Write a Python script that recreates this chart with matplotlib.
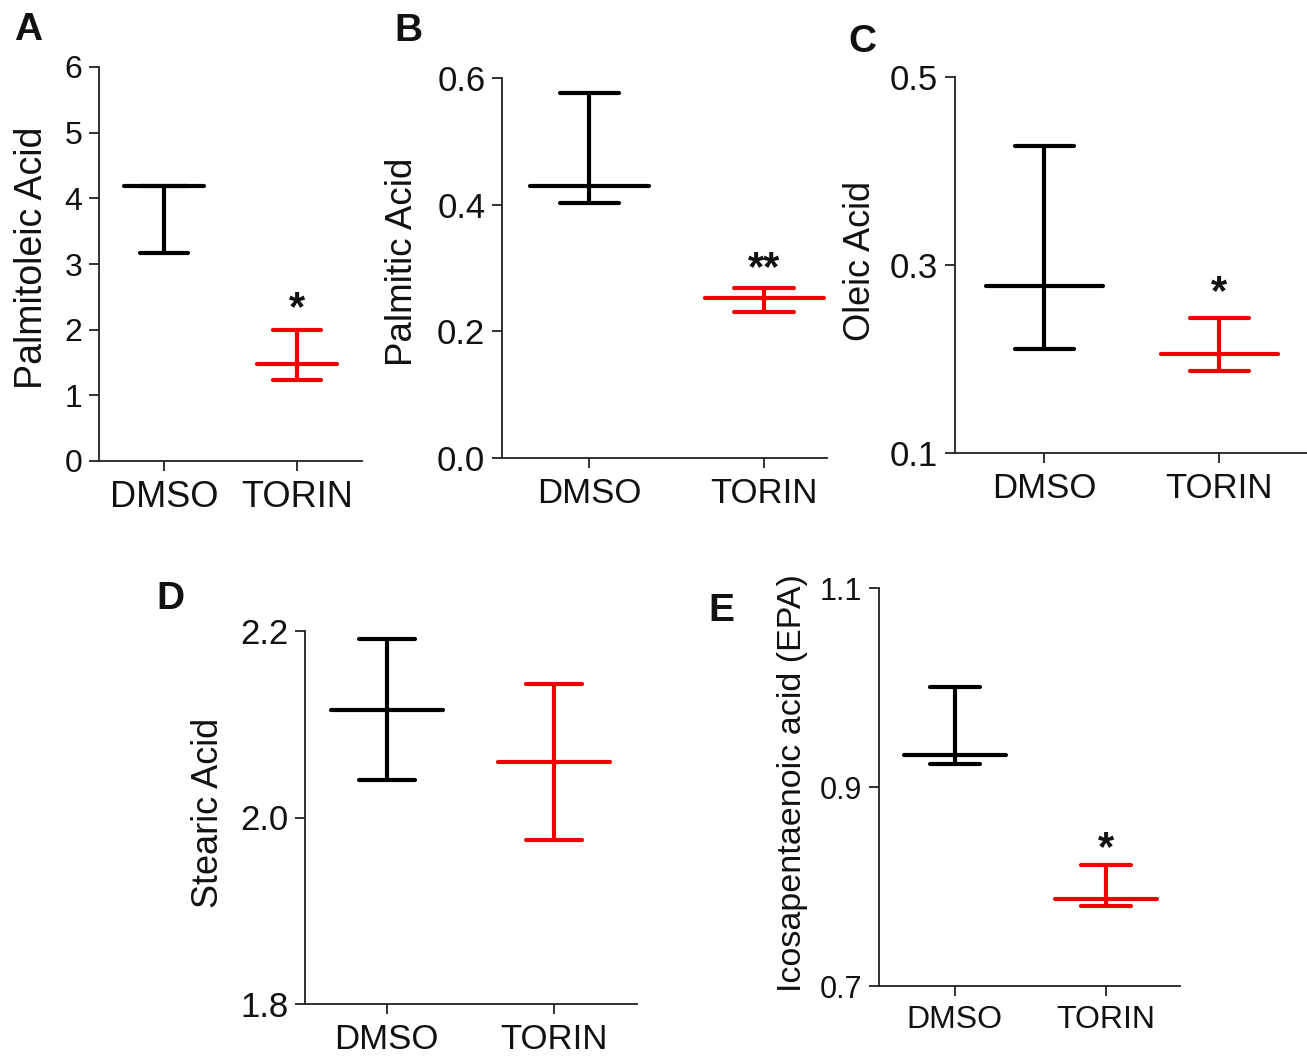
import matplotlib
matplotlib.use("Agg")
import matplotlib.pyplot as plt

plt.rcParams['font.family'] = ['Liberation Sans', 'DejaVu Sans']

# ---------------- data ----------------
categories = ['DMSO', 'TORIN']
panel_letters = ['A', 'B', 'C', 'D', 'E']
analytes = ['Palmitoleic Acid', 'Palmitic Acid', 'Oleic Acid',
            'Stearic Acid', 'Icosapentaenoic acid (EPA)']

mean_dmso = [4.19, 0.430, 0.278, 2.115, 0.932]
upper_dmso = [4.19, 0.576, 0.427, 2.191, 1.001]
lower_dmso = [3.17, 0.402, 0.211, 2.040, 0.923]

mean_torin = [1.48, 0.253, 0.205, 2.059, 0.787]
upper_torin = [2.00, 0.268, 0.244, 2.143, 0.822]
lower_torin = [1.24, 0.231, 0.187, 1.976, 0.780]

significance = ['*', '**', '*', '', '*']

y_ticks = [[0, 1, 2, 3, 4, 5, 6],
           [0.0, 0.2, 0.4, 0.6],
           [0.1, 0.3, 0.5],
           [1.8, 2.0, 2.2],
           [0.7, 0.9, 1.1]]
y_tick_labels = [['0', '1', '2', '3', '4', '5', '6'],
                 ['0.0', '0.2', '0.4', '0.6'],
                 ['0.1', '0.3', '0.5'],
                 ['1.8', '2.0', '2.2'],
                 ['0.7', '0.9', '1.1']]

# ---------------- layout / style ----------------
W, H = 1307, 1057
fig = plt.figure(figsize=(W / 100, H / 100), dpi=100)

# axes boxes in pixels: left, right, top, bottom
boxes = [(99, 362, 67, 461),
         (502, 827, 78, 458),
         (955, 1307, 77, 453),
         (305, 637, 631, 1004),
         (879, 1180, 588, 986)]
xlims = [(-0.49, 1.49), (-0.5, 1.36), (-0.51, 1.5), (-0.49, 1.5), (-0.5, 1.49)]
mean_half = [0.30, 0.34, 0.335, 0.336, 0.338]
cap_half = [0.18, 0.17, 0.17, 0.168, 0.166]
ylabel_centers = [(32, 258), (403, 262), (860, 261), (208, 813), (792, 783)]
letter_pos = [(28, 30), (408, 31), (862, 42), (170, 599), (721, 611)]
tick_fs = [23, 25, 25, 25, 22]
xtick_fs = [26, 25, 25, 25, 23]
ylabel_fs = [27, 26.5, 26, 26, 24.5]
star_offsets = [7, 6, 10, 0, 3]
colors = ['black', '#f00000']
lw_bar = 3.0

for i in range(5):
    l, r, t, b = boxes[i]
    ax = fig.add_axes([l / W, 1 - b / H, (r - l) / W, (b - t) / H])
    means = [mean_dmso[i], mean_torin[i]]
    uppers = [upper_dmso[i], upper_torin[i]]
    lowers = [lower_dmso[i], lower_torin[i]]
    for j in range(2):
        c = colors[j]
        ax.vlines(j, lowers[j], uppers[j], color=c, lw=lw_bar)
        ax.hlines(means[j], j - mean_half[i], j + mean_half[i], color=c, lw=lw_bar,
                  capstyle='round')
        ax.hlines([lowers[j], uppers[j]], j - cap_half[i], j + cap_half[i], color=c,
                  lw=lw_bar, capstyle='round')
    if significance[i]:
        ax.annotate(significance[i], xy=(1, upper_torin[i]), xytext=(0, star_offsets[i]),
                    textcoords='offset points', ha='center', va='baseline',
                    fontsize=30, fontweight='bold', color='#111111')

    ax.set_xlim(*xlims[i])
    ax.set_ylim(y_ticks[i][0], y_ticks[i][-1])
    ax.set_xticks([0, 1])
    ax.set_xticklabels(categories, fontsize=xtick_fs[i])
    ax.set_yticks(y_ticks[i])
    ax.set_yticklabels(y_tick_labels[i], fontsize=tick_fs[i])
    for s in ['top', 'right']:
        ax.spines[s].set_visible(False)
    for s in ['left', 'bottom']:
        ax.spines[s].set_linewidth(1.3)
        ax.spines[s].set_color('#222222')
    ax.tick_params(axis='both', direction='out', length=7, width=1.3, color='#222222',
                   colors='#111111')
    ax.tick_params(axis='y', pad=5)
    ax.tick_params(axis='x', pad=7)
    ax.set_ylabel(analytes[i], fontsize=ylabel_fs[i], color='#111111')
    ax.yaxis.label.set_va('center')
    ax.yaxis.set_label_coords(ylabel_centers[i][0] / W, 1 - ylabel_centers[i][1] / H,
                              transform=fig.transFigure)
    fig.text(letter_pos[i][0] / W, 1 - letter_pos[i][1] / H, panel_letters[i],
             fontsize=28, fontweight='bold', ha='center', va='center', color='#111111')

fig.savefig('out.png', dpi=100)
